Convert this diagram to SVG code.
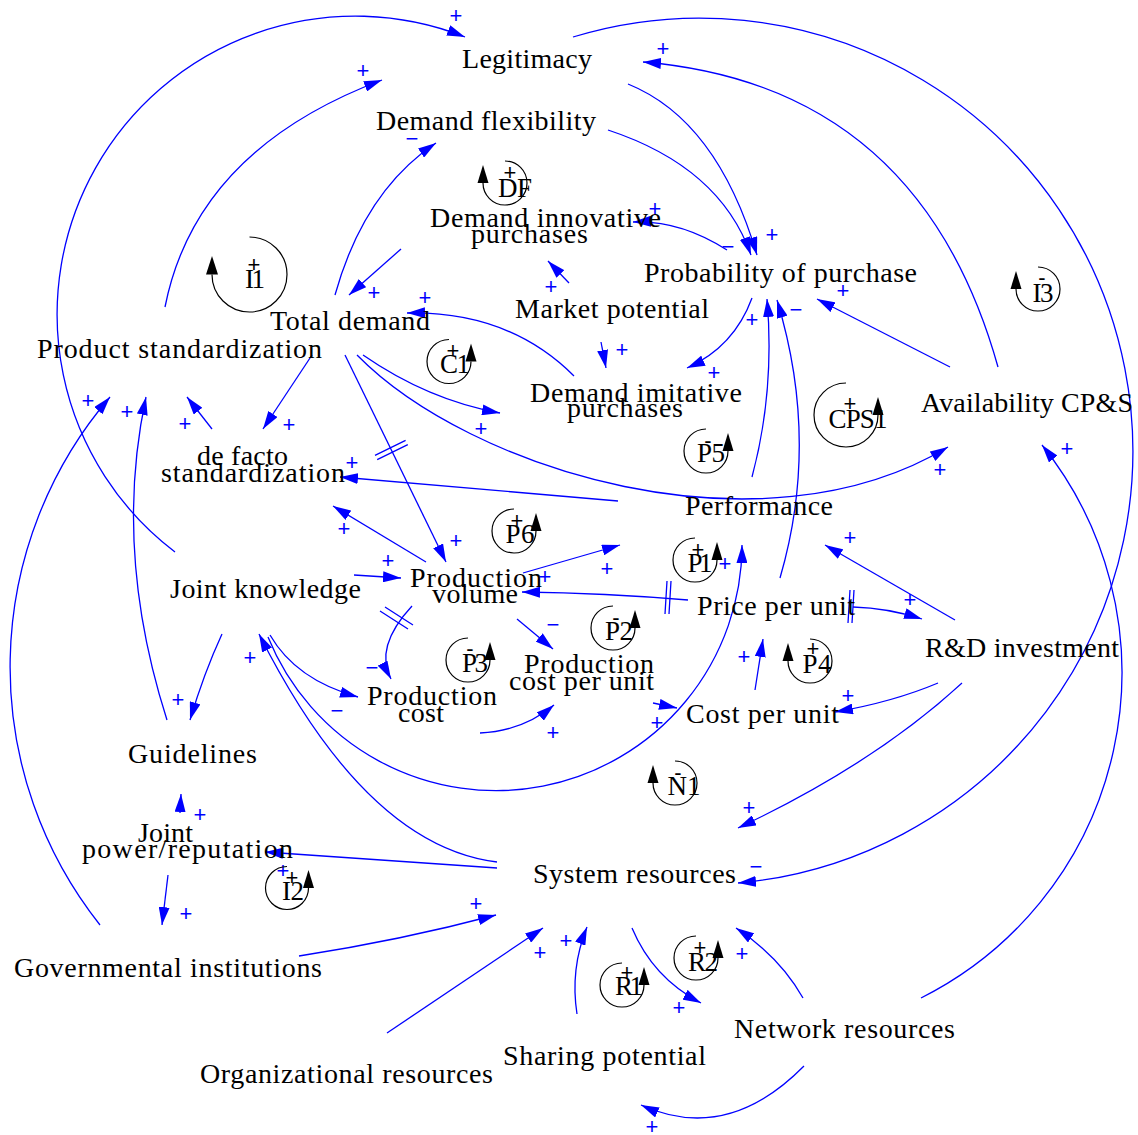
<svg xmlns="http://www.w3.org/2000/svg" width="1138" height="1135" viewBox="0 0 1138 1135">
  <style>
    .lbl { font-family: "Liberation Serif", "Times New Roman", serif; font-size: 28px; fill: #000; text-anchor: middle; }
    .ln { font-family: "Liberation Serif", "Times New Roman", serif; font-size: 27px; fill: #000; text-anchor: middle; }
    .ls { font-family: "Liberation Sans", Arial, sans-serif; font-size: 22px; fill: #000; text-anchor: middle; dominant-baseline: central; }
    .pol { font-family: "Liberation Sans", Arial, sans-serif; font-size: 22px; fill: #0000ff; text-anchor: middle; dominant-baseline: central; }
    .c { fill: none; stroke: #0000ff; stroke-width: 1.3; marker-end: url(#ah); }
    .d { fill: none; stroke: #0000ff; stroke-width: 1.3; }
    .la { fill: none; stroke: #000; stroke-width: 1.2; }
  </style>
  <defs>
    <marker id="ah" markerUnits="userSpaceOnUse" viewBox="0 0 18 11" refX="18" refY="5.5" markerWidth="18" markerHeight="11" orient="auto">
      <path d="M0,0 L18,5.5 L0,11 z" fill="#0000ff"/>
    </marker>
  </defs>
  <rect width="1138" height="1135" fill="#fff"/>

  <!-- causal links -->
  <g id="connectors">
    <path class="c" d="M175,552 A298.3,298.3 0 0 1 465,37"/>
    <path class="c" d="M165,307 Q196,150 382,80"/>
    <path class="c" d="M335,295 Q364,191 436,143"/>
    <path class="c" d="M608,130 Q720,167 751,255"/>
    <path class="c" d="M628,84 Q717,120 757,255"/>
    <path class="c" d="M727,250 Q680,220 633,222"/>
    <path class="c" d="M569,283 L548,261"/>
    <path class="c" d="M752,298 Q734,347 687,368"/>
    <path class="c" d="M950,367 L817,299"/>
    <path class="c" d="M998,367 Q919,85 643,62"/>
    <path class="c" d="M573,37 A433.3,433.3 0 1 1 738,883"/>
    <path class="c" d="M921,998 A364,364 0 0 0 1042,445"/>
    <path class="c" d="M357,355 C470,470 760,560 948,447"/>
    <path class="c" d="M574,376 Q509,311 407,313"/>
    <path class="c" d="M312,355 L263,429"/>
    <path class="c" d="M212,429 L187,397"/>
    <path class="c" d="M167,720 Q113,551 146,397"/>
    <path class="c" d="M100,925 A415,415 0 0 1 110,397"/>
    <path class="c" d="M618,501 L340,477"/>
    <path class="c" d="M426,562 L333,506"/>
    <path class="c" d="M354,575 L401,578"/>
    <path class="c" d="M345,355 L446,562"/>
    <path class="c" d="M523,573 L620,545"/>
    <path class="c" d="M688,600 Q605,593 522,592"/>
    <path class="c" d="M517,619 L553,649"/>
    <path class="c" d="M270,635 Q296,680 358,697"/>
    <path class="c" d="M412,606 Q374,647 391,679"/>
    <path class="c" d="M480,733 Q523,731 554,705"/>
    <path class="c" d="M653,703 L677,708"/>
    <path class="c" d="M268,637 A246,246 0 0 0 742,545"/>
    <path class="c" d="M497,862 Q366,846 259,634"/>
    <path class="c" d="M780,578 Q820,441 777,300"/>
    <path class="c" d="M752,477 Q775,391 767,299"/>
    <path class="c" d="M853,607 Q888,608 922,619"/>
    <path class="c" d="M955,620 L825,545"/>
    <path class="c" d="M938,683 Q893,702 835,712"/>
    <path class="c" d="M755,690 L763,639"/>
    <path class="c" d="M962,683 Q874,764 738,828"/>
    <path class="c" d="M497,868 L265,852"/>
    <path class="c" d="M180,813 L181,794"/>
    <path class="c" d="M222,634 Q204,673 190,720"/>
    <path class="c" d="M168,875 L162,925"/>
    <path class="c" d="M299,956 Q402,940 496,915"/>
    <path class="c" d="M387,1033 L543,928"/>
    <path class="c" d="M577,1014 Q570,969 587,927"/>
    <path class="c" d="M632,928 Q653,978 701,1003"/>
    <path class="c" d="M803,998 Q780,957 736,928"/>
    <path class="c" d="M804,1066 Q727,1144 641,1105"/>
    <path class="c" d="M601,342 L606,368"/>
    <path class="c" d="M401,249 L349,295"/>
    <path class="c" d="M363,355 Q428,400 500,413"/>

    <!-- delay marks -->
    <path class="d" d="M375,455.3 L405.6,440.3 M377.2,459.7 L407.8,444.7"/>
    <path class="d" d="M667,581 L665,614 M671,581 L669,614"/>
    <path class="d" d="M850,590 L848,623 M854,590 L852,623"/>
    <path class="d" d="M385,607 L413,625 M380,611 L408,629"/>

    <!-- link polarities -->
    <text class="pol" x="456" y="15">+</text>
    <text class="pol" x="363" y="70">+</text>
    <text class="pol" x="412" y="138">−</text>
    <text class="pol" x="728" y="246">−</text>
    <text class="pol" x="772" y="234">+</text>
    <text class="pol" x="655" y="208">+</text>
    <text class="pol" x="551" y="286">+</text>
    <text class="pol" x="714" y="372">+</text>
    <text class="pol" x="843" y="290">+</text>
    <text class="pol" x="663" y="48">+</text>
    <text class="pol" x="756" y="866">−</text>
    <text class="pol" x="1067" y="448">+</text>
    <text class="pol" x="940" y="469">+</text>
    <text class="pol" x="425" y="297">+</text>
    <text class="pol" x="374" y="292">+</text>
    <text class="pol" x="289" y="424">+</text>
    <text class="pol" x="185" y="423">+</text>
    <text class="pol" x="127" y="411">+</text>
    <text class="pol" x="88" y="400">+</text>
    <text class="pol" x="352" y="462">+</text>
    <text class="pol" x="344" y="528">+</text>
    <text class="pol" x="388" y="560">+</text>
    <text class="pol" x="456" y="540">+</text>
    <text class="pol" x="607" y="568">+</text>
    <text class="pol" x="545" y="576">+</text>
    <text class="pol" x="553" y="624">−</text>
    <text class="pol" x="337" y="710">−</text>
    <text class="pol" x="372" y="667">−</text>
    <text class="pol" x="553" y="732">+</text>
    <text class="pol" x="657" y="722">+</text>
    <text class="pol" x="725" y="563">+</text>
    <text class="pol" x="250" y="657">+</text>
    <text class="pol" x="796" y="309">−</text>
    <text class="pol" x="752" y="319">+</text>
    <text class="pol" x="910" y="599">+</text>
    <text class="pol" x="850" y="537">+</text>
    <text class="pol" x="848" y="695">+</text>
    <text class="pol" x="744" y="656">+</text>
    <text class="pol" x="749" y="807">+</text>
    <text class="pol" x="283" y="870">+</text>
    <text class="pol" x="200" y="814">+</text>
    <text class="pol" x="178" y="699">+</text>
    <text class="pol" x="186" y="913">+</text>
    <text class="pol" x="476" y="903">+</text>
    <text class="pol" x="540" y="952">+</text>
    <text class="pol" x="566" y="940">+</text>
    <text class="pol" x="679" y="1007">+</text>
    <text class="pol" x="742" y="953">+</text>
    <text class="pol" x="652" y="1126">+</text>
    <text class="pol" x="622" y="349">+</text>
    <text class="pol" x="481" y="428">+</text>
  </g>

  <!-- variables -->
  <g id="legitimacy"><text class="lbl" x="527" y="68" textLength="130">Legitimacy</text></g>
  <g id="demand-flexibility"><text class="lbl" x="486" y="130" textLength="220">Demand flexibility</text></g>
  <g id="demand-innovative-purchases">
    <text class="lbl" x="545.5" y="227" textLength="231">Demand innovative</text>
    <text class="lbl" x="529.5" y="243" textLength="117">purchases</text>
  </g>
  <g id="probability-of-purchase"><text class="lbl" x="780.5" y="282" textLength="273">Probability of purchase</text></g>
  <g id="market-potential"><text class="lbl" x="612" y="318" textLength="194">Market potential</text></g>
  <g id="total-demand"><text class="lbl" x="350" y="330" textLength="160">Total demand</text></g>
  <g id="product-standardization"><text class="lbl" x="179.5" y="358" textLength="285">Product standardization</text></g>
  <g id="demand-imitative-purchases">
    <text class="lbl" x="636" y="402" textLength="212">Demand imitative</text>
    <text class="lbl" x="625" y="417" textLength="116">purchases</text>
  </g>
  <g id="availability-cps"><text class="lbl" x="1027" y="412" textLength="212">Availability CP&amp;S</text></g>
  <g id="de-facto-standardization">
    <text class="lbl" x="242.5" y="465" textLength="91">de facto</text>
    <text class="lbl" x="253" y="482" textLength="184">standardization</text>
  </g>
  <g id="performance"><text class="lbl" x="759" y="515" textLength="148">Performance</text></g>
  <g id="joint-knowledge"><text class="lbl" x="265.5" y="598" textLength="191">Joint knowledge</text></g>
  <g id="production-volume">
    <text class="lbl" x="476" y="587" textLength="132">Production</text>
    <text class="lbl" x="475" y="603" textLength="86">volume</text>
  </g>
  <g id="price-per-unit"><text class="lbl" x="776" y="615" textLength="158">Price per unit</text></g>
  <g id="rd-investment"><text class="lbl" x="1022" y="657" textLength="194">R&amp;D investment</text></g>
  <g id="production-cost-per-unit">
    <text class="lbl" x="589" y="673" textLength="130">Production</text>
    <text class="lbl" x="581.5" y="690" textLength="145">cost per unit</text>
  </g>
  <g id="production-cost">
    <text class="lbl" x="432" y="705" textLength="130">Production</text>
    <text class="lbl" x="421" y="722" textLength="46">cost</text>
  </g>
  <g id="cost-per-unit"><text class="lbl" x="762.5" y="723" textLength="153">Cost per unit</text></g>
  <g id="guidelines"><text class="lbl" x="192.5" y="763" textLength="129">Guidelines</text></g>
  <g id="joint-power-reputation">
    <text class="lbl" x="165.5" y="842" textLength="55">Joint</text>
    <text class="lbl" x="187.5" y="858" textLength="211">power/reputation</text>
  </g>
  <g id="system-resources"><text class="lbl" x="634.5" y="883" textLength="203">System resources</text></g>
  <g id="governmental-institutions"><text class="lbl" x="168" y="977" textLength="308">Governmental institutions</text></g>
  <g id="organizational-resources"><text class="lbl" x="346.5" y="1083" textLength="293">Organizational resources</text></g>
  <g id="sharing-potential"><text class="lbl" x="604.5" y="1065" textLength="203">Sharing potential</text></g>
  <g id="network-resources"><text class="lbl" x="844.5" y="1038" textLength="221">Network resources</text></g>

  <!-- loop identifiers -->
  <g id="loop-I1">
    <path class="la" d="M249.5,237 A37.5,37.5 0 1 1 212,274.5"/>
    <polygon points="206,274.5 218,274.5 212,256" fill="#000"/>
    <text class="ls" x="254" y="264" font-size="26">+</text>
    <text class="ln" x="255" y="288" font-size="30" textLength="20">I1</text>
  </g>
  <g id="loop-DF">
    <path class="la" d="M505,161 A22,22 0 1 1 483,183"/>
    <polygon points="477.5,183 488.5,183 483,165" fill="#000"/>
    <text class="ls" x="510" y="172">+</text>
    <text class="ln" x="515" y="197" textLength="34">DF</text>
  </g>
  <g id="loop-C1">
    <path class="la" d="M449,339.5 A22,22 0 1 0 471,361.5"/>
    <polygon points="465.5,361.5 476.5,361.5 471,343.5" fill="#000"/>
    <text class="ls" x="453" y="350">+</text>
    <text class="ln" x="455" y="373" textLength="30">C1</text>
  </g>
  <g id="loop-CPS1">
    <path class="la" d="M846,383 A32,32 0 1 0 878,415"/>
    <polygon points="872.5,415 883.5,415 878,397" fill="#000"/>
    <text class="ls" x="850" y="403">+</text>
    <text class="ln" x="858" y="428" textLength="59">CPS1</text>
  </g>
  <g id="loop-I3">
    <path class="la" d="M1038,267 A22,22 0 1 1 1016,289"/>
    <polygon points="1010.5,289 1021.5,289 1016,271" fill="#000"/>
    <text class="ls" x="1042" y="277">-</text>
    <text class="ln" x="1043" y="302" textLength="21">I3</text>
  </g>
  <g id="loop-P5">
    <path class="la" d="M706,429 A22,22 0 1 0 728,451"/>
    <polygon points="722.5,451 733.5,451 728,433" fill="#000"/>
    <text class="ls" x="708" y="440">-</text>
    <text class="ln" x="711" y="462" textLength="28">P5</text>
  </g>
  <g id="loop-P6">
    <path class="la" d="M514,509 A22,22 0 1 0 536,531"/>
    <polygon points="530.5,531 541.5,531 536,513" fill="#000"/>
    <text class="ls" x="517" y="520">+</text>
    <text class="ln" x="520" y="543" textLength="29">P6</text>
  </g>
  <g id="loop-P1">
    <path class="la" d="M695,538 A22,22 0 1 0 717,560"/>
    <polygon points="711.5,560 722.5,560 717,542" fill="#000"/>
    <text class="ls" x="698" y="549">+</text>
    <text class="ln" x="700" y="572" textLength="25">P1</text>
  </g>
  <g id="loop-P2">
    <path class="la" d="M613,606 A22,22 0 1 0 635,628"/>
    <polygon points="629.5,628 640.5,628 635,610" fill="#000"/>
    <text class="ls" x="616" y="617">-</text>
    <text class="ln" x="619" y="640" textLength="28">P2</text>
  </g>
  <g id="loop-P3">
    <path class="la" d="M468,638 A22,22 0 1 0 490,660"/>
    <polygon points="484.5,660 495.5,660 490,642" fill="#000"/>
    <text class="ls" x="470" y="648">-</text>
    <text class="ln" x="475" y="672" textLength="26">P3</text>
  </g>
  <g id="loop-P4">
    <path class="la" d="M810,639 A22,22 0 1 1 788,661"/>
    <polygon points="782.5,661 793.5,661 788,643" fill="#000"/>
    <text class="ls" x="813" y="648">+</text>
    <text class="ln" x="817" y="673" textLength="29">P4</text>
  </g>
  <g id="loop-N1">
    <path class="la" d="M675,761 A22,22 0 1 1 653,783"/>
    <polygon points="647.5,783 658.5,783 653,765" fill="#000"/>
    <text class="ls" x="678" y="772">-</text>
    <text class="ln" x="684" y="795" textLength="33">N1</text>
  </g>
  <g id="loop-I2">
    <path class="la" d="M287,866.5 A21.5,21.5 0 1 0 308.5,888"/>
    <polygon points="303,888 314,888 308.5,870" fill="#000"/>
    <text class="ls" x="292" y="877">+</text>
    <text class="ln" x="293" y="900" textLength="22">I2</text>
  </g>
  <g id="loop-R1">
    <path class="la" d="M622,963 A22,22 0 1 0 644,985"/>
    <polygon points="638.5,985 649.5,985 644,967" fill="#000"/>
    <text class="ls" x="627" y="972">+</text>
    <text class="ln" x="629" y="995" textLength="28">R1</text>
  </g>
  <g id="loop-R2">
    <path class="la" d="M696,936 A22,22 0 1 0 718,958"/>
    <polygon points="712.5,958 723.5,958 718,940" fill="#000"/>
    <text class="ls" x="700" y="947">+</text>
    <text class="ln" x="703" y="971" textLength="30">R2</text>
  </g>
</svg>
